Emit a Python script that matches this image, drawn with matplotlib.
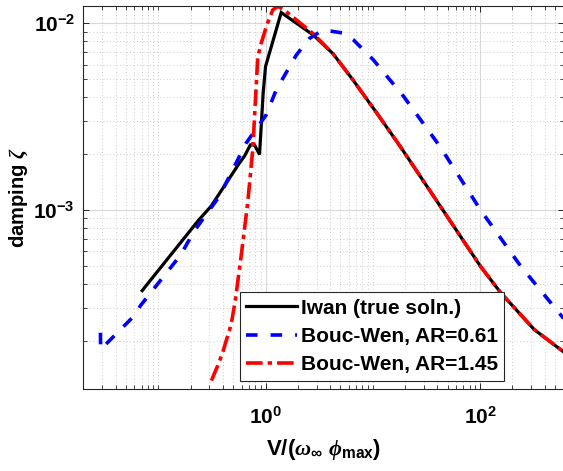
import numpy as np
import matplotlib
matplotlib.use("Agg")
import matplotlib.pyplot as plt
from matplotlib.ticker import FixedLocator, LogFormatterSciNotation, NullFormatter

plt.rcParams['font.family'] = ['Liberation Sans', 'DejaVu Sans']
plt.rcParams['font.weight'] = 'bold'
plt.rcParams['mathtext.fontset'] = 'custom'
plt.rcParams['mathtext.rm'] = 'Liberation Sans:bold'
plt.rcParams['mathtext.bf'] = 'Liberation Sans:bold'
plt.rcParams['mathtext.sf'] = 'Liberation Sans:bold'
plt.rcParams['mathtext.it'] = 'Liberation Serif:italic'

# ---- data ----
iwan_x = [0.0708, 0.237, 0.31, 0.57, 0.636, 0.723, 0.789, 0.879, 0.95, 1.0, 1.40,
          2.77, 4.27, 6.58, 10.9, 18.0, 42.7, 101, 156, 320, 600]
iwan_y = [3.70e-4, 8.8e-4, 1.045e-3, 1.78e-3, 1.94e-3, 2.23e-3, 2.23e-3, 1.98e-3, 4.2e-3, 5.86e-3, 1.14e-2,
          8.66e-3, 6.85e-3, 4.94e-3, 3.30e-3, 2.19e-3, 1.045e-3, 4.99e-4, 3.6e-4, 2.29e-4, 1.74e-4]

bw061_x = [0.0289, 0.0290, 0.0592, 0.0684, 0.162, 0.216, 0.37, 0.66, 1.015, 1.26, 1.94,
           2.58, 3.44, 5.3, 6.58, 10.1, 19.4, 42.0, 101, 240, 600]
bw061_y = [2.2e-4, 1.79e-4, 2.70e-4, 3.08e-4, 5.75e-4, 7.7e-4, 1.18e-3, 2.28e-3, 3.23e-3, 4.4e-3, 6.76e-3,
           8.3e-3, 9.2e-3, 8.85e-3, 8.15e-3, 6.37e-3, 4.05e-3, 2.2e-3, 1.0e-3, 4.99e-4, 2.63e-4]

bw145_x = [0.313, 0.357, 0.398, 0.428, 0.46, 0.487, 0.524, 0.592, 0.682, 0.76, 0.847, 0.911,
           1.03, 1.17, 1.31, 1.51, 2.77, 4.27, 6.58, 10.9, 18.0, 42.7, 101, 156, 320, 600]
bw145_y = [1.22e-4, 1.46e-4, 1.72e-4, 1.98e-4, 2.25e-4, 2.59e-4, 3.31e-4, 5.65e-4, 1.09e-3, 2.1e-3, 6.6e-3, 7.8e-3,
           9.8e-3, 1.18e-2, 1.23e-2, 1.17e-2, 8.8e-3, 6.85e-3, 4.94e-3, 3.30e-3, 2.19e-3, 1.045e-3, 4.99e-4, 3.6e-4, 2.29e-4, 1.74e-4]

labels = ['Iwan (true soln.)', 'Bouc-Wen, AR=0.61', 'Bouc-Wen, AR=1.45']
xlim = (0.02, 600)
ylim = (1.1e-4, 1.24e-2)

fig = plt.figure(figsize=(5.63, 4.71), dpi=100)
ax = fig.add_axes([83.3/563, 1-389/471, (563.5-83.3)/563, (389-5.7)/471])

ax.plot(iwan_x, iwan_y, color='black', lw=2.3, label=labels[0], solid_joinstyle='miter')
ax.plot(bw061_x, bw061_y, color=(0, 0, 1), lw=2.6, dashes=(3.2, 3.6), dash_capstyle='butt',
        label=labels[1])
ax.plot(bw145_x, bw145_y, color=(1, 0, 0), lw=2.6, dashes=(4.6, 1.4, 1.2, 1.4), dash_capstyle='butt',
        label=labels[2])

ax.set_xscale('log')
ax.set_yscale('log')
ax.set_xlim(*xlim)
ax.set_ylim(*ylim)

xmaj = [1, 100]
xmin = [m * 10.0**e for e in range(-2, 3) for m in range(1, 10) if m * 10.0**e not in xmaj]
ymaj = [1e-3, 1e-2]
ymin = [m * 10.0**e for e in range(-4, -1) for m in range(1, 10) if m * 10.0**e not in ymaj]
ax.xaxis.set_major_locator(FixedLocator(xmaj))
ax.xaxis.set_minor_locator(FixedLocator(xmin))
ax.yaxis.set_major_locator(FixedLocator(ymaj))
ax.yaxis.set_minor_locator(FixedLocator(ymin))
ax.xaxis.set_major_formatter(LogFormatterSciNotation())
ax.yaxis.set_major_formatter(LogFormatterSciNotation())
ax.xaxis.set_minor_formatter(NullFormatter())
ax.yaxis.set_minor_formatter(NullFormatter())

ax.grid(True, which='major', color='#d9d9d9', lw=0.8, ls='-')
ax.grid(True, which='minor', color='#bdbdbd', lw=0.6, ls=(0, (1, 3)))
ax.set_axisbelow(True)

axc = '#262626'
for s in ax.spines.values():
    s.set_color(axc)
    s.set_linewidth(0.8)
ax.tick_params(which='both', direction='in', top=True, right=True, colors=axc, labelcolor='black')
ax.tick_params(which='major', length=4.3, width=0.7, labelsize=15)
ax.tick_params(which='minor', length=2.9, width=0.6)
ax.tick_params(axis='x', which='major', pad=12.5)
ax.tick_params(axis='y', which='major', pad=6)

ax.set_xlabel(r'V/($\omega_{\infty}$ $\phi_{\mathbf{max}}$)', fontsize=16, fontweight='bold')
ax.set_ylabel(r'damping $\zeta$', fontsize=14.5, fontweight='bold')
ax.xaxis.set_label_coords(0.5, -0.125)
ax.yaxis.set_label_coords(-0.11, 0.5)

leg = ax.legend(loc='lower right', bbox_to_anchor=(0.877, 0.0217), borderaxespad=0,
                fontsize=15, frameon=True, fancybox=False, framealpha=1, edgecolor=axc,
                handlelength=2.45, handletextpad=0.2, labelspacing=0.45, borderpad=0.3)
leg.get_frame().set_linewidth(0.8)
for t in leg.get_texts():
    t.set_fontweight('bold')

fig.savefig('out.png', dpi=100)
